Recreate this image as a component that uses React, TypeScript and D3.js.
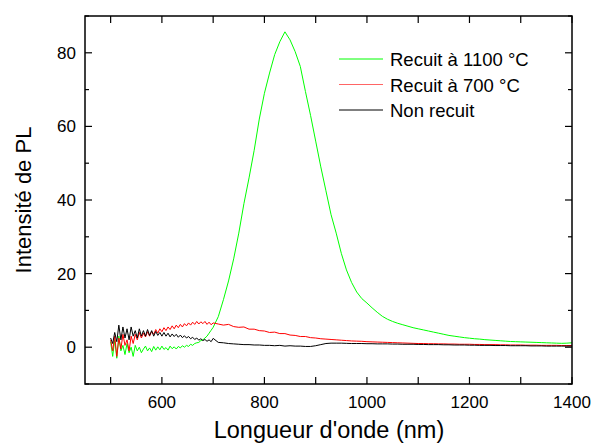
import React from "react";
import * as d3 from "d3";

// Wavelengths (nm)
const wavelengthsNoisy = [
  500, 504, 508, 512, 516, 520, 524, 528, 532, 536, 540, 544, 548, 552, 556, 560, 564, 568, 572, 576,
  580, 584, 588, 592, 596, 600, 604, 608, 612, 616, 620, 624, 628, 632, 636, 640, 644, 648, 652, 656,
  660, 664, 668, 672, 676, 680, 684, 688, 692, 696, 700,
];
const wavelengthsTail = [
  710, 720, 730, 740, 750, 760, 770, 780, 790, 800, 810, 820, 830, 840, 850, 860, 870, 880, 890, 900,
  910, 920, 930, 940, 950, 960, 970, 980, 990, 1000, 1010, 1020, 1030, 1040, 1050, 1060, 1070, 1080, 1090, 1100,
  1110, 1120, 1130, 1140, 1150, 1160, 1170, 1180, 1190, 1200, 1210, 1220, 1230, 1240, 1250, 1260, 1270, 1280, 1290, 1300,
  1310, 1320, 1330, 1340, 1350, 1360, 1370, 1380, 1390, 1400,
];

// Recuit à 1100 °C
const green1100Noisy = [
  1.5, -2.5, 2.0, -3.0, 3.0, -1.0, 0.5, -2.0, 1.0, -1.5, 0.0, -2.5, 0.5, -1.0, 0.0, -1.5, -0.5, 0.3, -1.0, -0.2,
  -1.2, 0.2, -0.8, 0.1, -0.7, 0.3, -0.6, -0.1, -0.8, 0.3, -0.4, 0.1, -0.5, 0.2, -0.2, 0.4, 0.0, 0.5, 0.2, 0.8,
  0.5, 1.0, 1.2, 1.3, 1.8, 2.0, 2.5, 3.0, 3.8, 4.6, 5.4,
];
const green1100Tail = [
  8.3, 12.9, 18.0, 24.0, 31.0, 39.0, 46.0, 53.5, 62.0, 69.0, 74.5, 79.5, 83.0, 85.7, 83.5, 80.3, 76.3, 69.5, 63.0, 56.0,
  49.0, 42.5, 36.0, 31.0, 25.5, 21.0, 17.6, 15.0, 13.2, 12.0, 10.7, 9.5, 8.4, 7.6, 7.0, 6.5, 6.1, 5.7, 5.3, 5.0,
  4.7, 4.4, 4.1, 3.8, 3.5, 3.2, 3.0, 2.8, 2.6, 2.45, 2.3, 2.2, 2.05, 1.95, 1.85, 1.75, 1.65, 1.55, 1.5, 1.45,
  1.4, 1.35, 1.3, 1.25, 1.2, 1.15, 1.1, 1.05, 1.1, 1.2,
];

// Recuit à 700 °C
const red700Noisy = [
  2.0, -1.0, 3.0, -2.5, 2.5, -0.5, 3.5, 0.5, 2.0, -1.0, 3.0, 1.0, 3.5, 2.0, 4.0, 2.5, 3.8, 2.8, 4.2, 3.0,
  4.3, 3.5, 4.8, 3.8, 5.0, 4.2, 5.3, 4.5, 5.5, 4.8, 5.8, 5.0, 6.0, 5.3, 6.2, 5.5, 6.4, 5.8, 6.6, 6.0,
  6.8, 6.2, 7.0, 6.3, 6.9, 6.4, 7.0, 6.2, 6.8, 6.1, 6.6,
];
const red700Tail = [
  6.3, 6.0, 6.2, 5.6, 5.4, 5.5, 4.9, 4.9, 4.5, 4.4, 4.0, 4.1, 3.7, 3.7, 3.3, 3.2, 2.9, 2.9, 2.6, 2.5,
  2.3, 2.2, 2.1, 2.0, 1.9, 1.8, 1.7, 1.65, 1.6, 1.5, 1.45, 1.4, 1.35, 1.3, 1.25, 1.2, 1.15, 1.1, 1.05, 1.0,
  1.0, 0.95, 0.95, 0.9, 0.9, 0.85, 0.85, 0.8, 0.8, 0.8, 0.75, 0.75, 0.7, 0.7, 0.7, 0.65, 0.65, 0.6, 0.6, 0.6,
  0.55, 0.55, 0.55, 0.5, 0.5, 0.5, 0.5, 0.45, 0.45, 0.45,
];

// Non recuit
const blackNoisy = [
  2.5, 1.0, 4.0, 1.5, 6.0, 2.0, 5.5, 2.5, 5.0, 2.0, 5.5, 3.0, 4.5, 2.5, 5.0, 3.0, 4.5, 3.0, 4.8, 3.2,
  4.5, 3.0, 4.3, 3.2, 4.0, 3.0, 4.0, 3.0, 3.8, 2.8, 3.6, 2.9, 3.5, 2.7, 3.3, 2.6, 3.1, 2.5, 2.9, 2.3,
  2.7, 2.1, 2.5, 1.9, 2.3, 1.8, 2.1, 1.6, 2.0, 1.5, 2.4,
];
const blackTail = [
  1.3, 1.2, 1.0, 0.9, 0.8, 0.7, 0.7, 0.6, 0.6, 0.5, 0.5, 0.4, 0.5, 0.3, 0.4, 0.3, 0.3, 0.2, 0.2, 0.4,
  0.7, 1.0, 1.1, 1.1, 1.1, 1.05, 1.0, 1.0, 1.0, 0.95, 0.95, 0.9, 0.9, 0.9, 0.85, 0.85, 0.8, 0.8, 0.8, 0.75,
  0.75, 0.7, 0.7, 0.7, 0.65, 0.65, 0.6, 0.6, 0.6, 0.55, 0.55, 0.5, 0.5, 0.5, 0.45, 0.45, 0.45, 0.4, 0.4, 0.4,
  0.4, 0.35, 0.35, 0.35, 0.3, 0.3, 0.3, 0.3, 0.3, 0.3,
];

const xTicksMajor = [600, 800, 1000, 1200, 1400];
const xTicksAll = [500, 600, 700, 800, 900, 1000, 1100, 1200, 1300, 1400];
const yTicksMajor = [0, 20, 40, 60, 80];
const yTicksMinor = [-10, 10, 30, 50, 70, 90];

const legendLabels = ["Recuit à 1100 °C", "Recuit à 700 °C", "Non recuit"];
const seriesColors = ["#00ff00", "#ff0000", "#000000"];

const W = 591;
const H = 446;
const L = 85, R = 572, T = 16, B = 384;

export default function App() {
  const x = d3.scaleLinear().domain([450, 1400]).range([L, R]);
  const y = d3.scaleLinear().domain([-10, 90]).range([B, T]);
  const wl = [...wavelengthsNoisy, ...wavelengthsTail];
  const series = [
    [...green1100Noisy, ...green1100Tail],
    [...red700Noisy, ...red700Tail],
    [...blackNoisy, ...blackTail],
  ];
  const line = d3
    .line<number>()
    .x((_, i) => x(wl[i]))
    .y((d) => y(d));
  const font = "Liberation Sans, Arial, sans-serif";
  const majorLen = 7;
  const minorLen = 4;

  return (
    <svg width={W} height={H} style={{ position: "absolute", left: 0, top: 0, background: "#fff" }} fontFamily={font}>
      <defs>
        <clipPath id="plotclip">
          <rect x={L} y={T} width={R - L} height={B - T} />
        </clipPath>
      </defs>
      <rect x={0} y={0} width={W} height={H} fill="#fff" />
      <g clipPath="url(#plotclip)">
        {series.map((s, i) => (
          <path key={i} d={line(s) || ""} fill="none" stroke={seriesColors[i]} strokeWidth={1} />
        ))}
      </g>
      {/* frame */}
      <rect x={L} y={T} width={R - L} height={B - T} fill="none" stroke="#000" strokeWidth={1.5} />
      {/* x ticks */}
      {xTicksAll.map((t) => (
        <g key={"xt" + t}>
          <line x1={x(t)} x2={x(t)} y1={B} y2={B - majorLen} stroke="#000" strokeWidth={1.2} />
          <line x1={x(t)} x2={x(t)} y1={T} y2={T + majorLen} stroke="#000" strokeWidth={1.2} />
        </g>
      ))}
      {xTicksMajor.map((t) => (
        <text key={"xl" + t} x={x(t)} y={408} fontSize={17} textAnchor="middle" fill="#000">
          {t}
        </text>
      ))}
      {/* y ticks */}
      {yTicksMajor.map((t) => (
        <g key={"yt" + t}>
          <line x1={L} x2={L + majorLen} y1={y(t)} y2={y(t)} stroke="#000" strokeWidth={1.2} />
          <line x1={R} x2={R - majorLen} y1={y(t)} y2={y(t)} stroke="#000" strokeWidth={1.2} />
          <text x={76} y={y(t) + 6} fontSize={17} textAnchor="end" fill="#000">
            {t}
          </text>
        </g>
      ))}
      {yTicksMinor.map((t) => (
        <g key={"ym" + t}>
          <line x1={L} x2={L + minorLen} y1={y(t)} y2={y(t)} stroke="#000" strokeWidth={1.2} />
          <line x1={R} x2={R - minorLen} y1={y(t)} y2={y(t)} stroke="#000" strokeWidth={1.2} />
        </g>
      ))}
      {/* axis titles */}
      <text x={329} y={438} fontSize={23.5} textAnchor="middle" fill="#000">
        Longueur d'onde (nm)
      </text>
      <text transform={`translate(31,200) rotate(-90)`} fontSize={22} textAnchor="middle" fill="#000">
        Intensité de PL
      </text>
      {/* legend */}
      {legendLabels.map((lab, i) => {
        const ly = 59 + i * 25.5;
        return (
          <g key={"lg" + i}>
            <line x1={339} x2={383} y1={ly} y2={ly} stroke={seriesColors[i]} strokeWidth={1} opacity={i === 1 ? 0.6 : 1} />
            <text x={390} y={ly + 7} fontSize={18.5} fill="#000">
              {lab}
            </text>
          </g>
        );
      })}
    </svg>
  );
}
